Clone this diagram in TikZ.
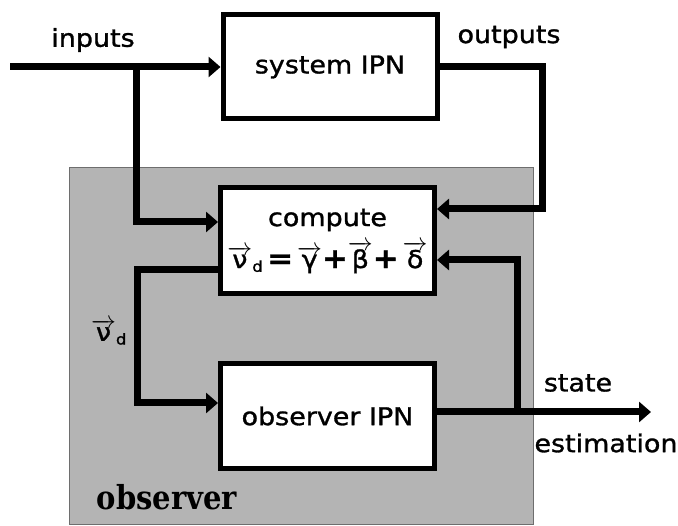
\documentclass[tikz,border=0pt]{standalone}
\usepackage{fontspec}
\setmainfont{DejaVu Sans}[FakeStretch=1.1, FakeBold=1.2]
\newfontfamily\obsfont{DejaVu Serif}[FakeStretch=0.88, BoldFont={DejaVu Serif Bold}, BoldFeatures={FakeStretch=0.88}]
\usetikzlibrary{arrows.meta}
\newcommand{\vecv}[1]{$\overrightarrow{\mbox{#1}}$}
\newcommand{\vecnud}{$\overrightarrow{\mbox{ν}}_{\mbox{\fontsize{15}{15}\selectfont d}}$}
\newcommand{\bigop}[1]{{\fontsize{28}{28}\selectfont\textbf{#1}}}
\begin{document}
\begin{tikzpicture}[x=1pt,y=-1pt,
  txt/.style={font=\fontsize{24.5}{28}\selectfont, inner sep=0pt},
  blk/.style={draw=black, line width=5pt, fill=white, minimum width=214pt, inner sep=0pt, align=center, font=\fontsize{24.5}{28}\selectfont},
  conn/.style={line width=7pt},
  arr/.style={conn, -{Triangle[length=12pt,width=20pt]}}]
\useasboundingbox (0,0) rectangle (678,526);
% observer area
\fill[fill={rgb,255:red,180;green,180;blue,180}, draw={rgb,255:red,110;green,110;blue,110}, line width=0.8pt] (69,167) rectangle (533,524);
% blocks
\node[blk, minimum height=104pt] (sys) at (330,67) {system IPN};
\node[blk, minimum height=106pt] (comp) at (327.5,241) {compute\\[9pt]\vecnud\,\bigop{=}\,\vecv{γ}\bigop{+}\vecv{β}\bigop{+}\,\vecv{δ}};
\node[blk, minimum height=105pt] (obs) at (327.5,416) {observer IPN};
% coordinates
\coordinate (in) at (10,67);
\coordinate (br) at (136,67);
\coordinate (oc) at (542,209);
\coordinate (vl) at (137,403);
\coordinate (se) at (651,412);
\coordinate (fb) at (517,412);
% connectors
\draw[arr] (in) -- (in -| sys.west);
\draw[arr] (br) |- ([yshift=19pt]comp.west);
\draw[arr] (sys.east |- in) -| (oc) -- (oc -| comp.east);
\draw[arr] ([yshift=-29pt]comp.west) -| (vl) -- (vl -| obs.west);
\draw[arr] (se -| obs.east) -- (se);
\draw[arr] (fb) |- ([yshift=-19pt]comp.east);
% labels
\node[txt] (lin) at (93,40) {inputs};
\node[txt] (lout) at (509,37) {outputs};
\node[txt] (lst) at (578,383) {state};
\node[txt] (lest) at (606,443) {estimation};
\node[txt] (lvd) at (109,332) {\vecnud};
\node[inner sep=0pt, font=\obsfont\bfseries\fontsize{33}{36}\selectfont] (lobs) at (167,497) {observer};
\end{tikzpicture}
\end{document}
